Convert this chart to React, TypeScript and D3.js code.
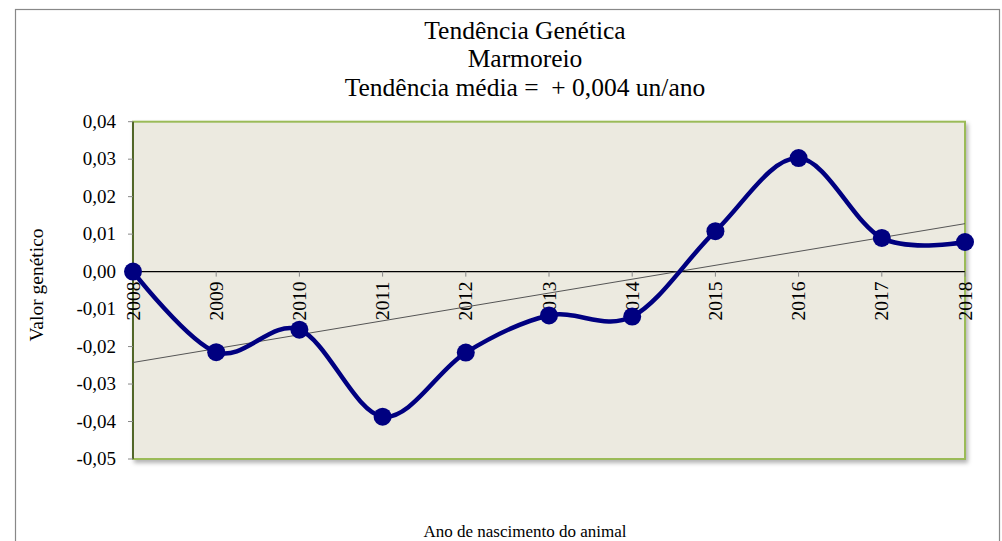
import React from "react";
import * as d3 from "d3";

const years: string[] = ["2008", "2009", "2010", "2011", "2012", "2013", "2014", "2015", "2016", "2017", "2018"];
const values: number[] = [0.0, -0.0215, -0.0155, -0.0387, -0.0216, -0.0117, -0.012, 0.0108, 0.0303, 0.009, 0.0079];
const yTicks: number[] = [0.04, 0.03, 0.02, 0.01, 0.0, -0.01, -0.02, -0.03, -0.04, -0.05];
const titleLines: string[] = ["Tendência Genética", "Marmoreio", "Tendência média =  + 0,004 un/ano"];
const xTitle = "Ano de nascimento do animal";
const yTitle = "Valor genético";

const W = 1002;
const H = 541;
const plot = { left: 133, top: 121.7, right: 965, bottom: 459 };
const font = "'Liberation Serif', 'Times New Roman', serif";

export default function App() {
  const x = d3.scalePoint<string>().domain(years).range([plot.left, plot.right]);
  const y = d3.scaleLinear().domain([-0.05, 0.04]).range([plot.bottom, plot.top]);

  const line = d3
    .line<number>()
    .x((_, i) => x(years[i]) as number)
    .y((d) => y(d))
    .curve(d3.curveCardinal.tension(0));

  // linear trend by least squares
  const n = values.length;
  const xs = values.map((_, i) => i);
  const mx = d3.mean(xs) as number;
  const my = d3.mean(values) as number;
  const sxy = d3.sum(values.map((v, i) => (i - mx) * (v - my)));
  const sxx = d3.sum(xs.map((i) => (i - mx) * (i - mx)));
  const slope = sxy / sxx;
  const icpt = my - slope * mx;
  const t0 = icpt;
  const t1 = icpt + slope * (n - 1);

  const fmt = (v: number) => d3.format(".2f")(v).replace(".", ",").replace("−", "-");
  const y0 = y(0);

  return (
    <svg
      width={W}
      height={H}
      style={{ position: "absolute", left: 0, top: 0, background: "#fff" }}
    >
      <defs>
        <filter id="shadow" x="-5%" y="-5%" width="110%" height="115%">
          <feDropShadow dx="2" dy="3" stdDeviation="2" floodColor="#000" floodOpacity="0.3" />
        </filter>
      </defs>
      <rect x={15.5} y={9.5} width={984} height={560} fill="#fff" stroke="#888" strokeWidth={1.2} />

      {titleLines.map((t, i) => (
        <text
          key={i}
          x={525}
          y={38.5 + i * 28.7}
          textAnchor="middle"
          fontFamily={font}
          fontSize={25.5}
          fill="#000"
          style={{ whiteSpace: "pre" }}
        >
          {t}
        </text>
      ))}

      <rect
        x={plot.left}
        y={plot.top}
        width={plot.right - plot.left}
        height={plot.bottom - plot.top}
        fill="#ECEAE0"
        stroke="#9BBB59"
        strokeWidth={2}
        filter="url(#shadow)"
      />
      <line x1={plot.left} x2={plot.left} y1={plot.top} y2={plot.bottom} stroke="#2a3a10" strokeWidth={1.3} />

      {yTicks.map((t) => (
        <g key={t}>
          <line x1={plot.left - 5} x2={plot.left} y1={y(t)} y2={y(t)} stroke="#888" strokeWidth={1} />
          <text
            x={116}
            y={y(t) + 6}
            textAnchor="end"
            fontFamily={font}
            fontSize={19}
            fill="#000"
          >
            {fmt(t)}
          </text>
        </g>
      ))}

      <text
        transform={`translate(43, 285) rotate(-90)`}
        textAnchor="middle"
        fontFamily={font}
        fontSize={19.5}
        fill="#000"
      >
        {yTitle}
      </text>

      <line x1={plot.left} x2={plot.right} y1={y0} y2={y0} stroke="#000" strokeWidth={1.3} />
      {years.map((yr) => (
        <g key={yr}>
          <line x1={x(yr)} x2={x(yr)} y1={y0} y2={y0 + 5} stroke="#888" strokeWidth={1} />
          <text
            transform={`translate(${(x(yr) as number) + 6.5}, ${y0 + 10}) rotate(-90)`}
            textAnchor="end"
            fontFamily={font}
            fontSize={19.5}
            fill="#000"
          >
            {yr}
          </text>
        </g>
      ))}

      <line
        x1={x(years[0])}
        x2={x(years[n - 1])}
        y1={y(t0)}
        y2={y(t1)}
        stroke="#555"
        strokeWidth={1}
      />

      <path d={line(values) as string} fill="none" stroke="#000080" strokeWidth={4.5} />
      {values.map((v, i) => (
        <circle key={i} cx={x(years[i])} cy={y(v)} r={9} fill="#000080" />
      ))}

      <text x={525} y={537} textAnchor="middle" fontFamily={font} fontSize={17} fill="#000">
        {xTitle}
      </text>
    </svg>
  );
}
